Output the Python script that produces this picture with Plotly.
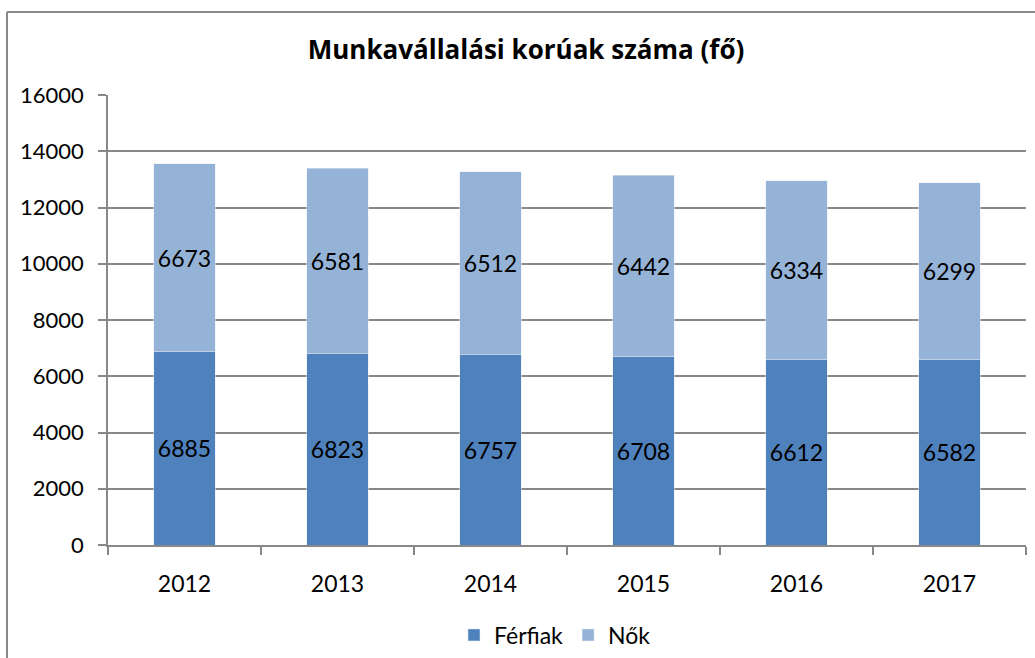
import plotly.graph_objects as go

years = ["2012", "2013", "2014", "2015", "2016", "2017"]
ferfiak = [6885, 6823, 6757, 6708, 6612, 6582]
nok = [6673, 6581, 6512, 6442, 6334, 6299]
y_ticks = [0, 2000, 4000, 6000, 8000, 10000, 12000, 14000, 16000]

FONT = "Lato"
W, H = 1035, 658
L, R, T, B = 108, 9, 95, 113
PW, PH = W - L - R, H - T - B
GRAY = "#888888"

fig = go.Figure()
fig.add_trace(go.Bar(
    x=years, y=ferfiak, name="Férfiak", marker_color="#4F81BD",
    text=[str(v) for v in ferfiak], textposition="inside", insidetextanchor="middle",
    textfont=dict(family=FONT, size=23, color="black"), textangle=0,
))
fig.add_trace(go.Bar(
    x=years, y=nok, name="Nők", marker_color="#95B3D7",
    text=[str(v) for v in nok], textposition="inside", insidetextanchor="middle",
    textfont=dict(family=FONT, size=23, color="black"), textangle=0,
))

fig.update_layout(
    width=W, height=H,
    barmode="stack", bargap=0.595,
    paper_bgcolor="white", plot_bgcolor="white",
    margin=dict(l=L, r=R, t=T, b=B, autoexpand=False),
    font=dict(family=FONT, size=22, color="black"),
    title=dict(text="<b>Munkavállalási korúak száma (fő)</b>", x=526 / W, xanchor="center",
               y=1 - 50 / H, yanchor="middle",
               font=dict(family="Open Sans", size=26, color="black")),
    legend=dict(orientation="h", x=(555 - L) / PW, xanchor="center",
                y=-(635 - (H - B)) / PH, yanchor="middle",
                font=dict(family=FONT, size=23), traceorder="normal", itemwidth=30),
    showlegend=True,
)
fig.update_yaxes(range=[0, 16000], tickvals=y_ticks, ticktext=[str(v) for v in y_ticks],
                 showgrid=True, gridcolor=GRAY, gridwidth=1.5,
                 showline=True, linecolor=GRAY, linewidth=1.5,
                 ticks="outside", ticklen=8, tickcolor=GRAY, tickwidth=1.5,
                 ticklabelstandoff=10,
                 tickfont=dict(family=FONT, size=22), zeroline=False)
fig.update_xaxes(showline=True, linecolor=GRAY, linewidth=1.5,
                 ticks="outside", ticklen=8, tickcolor=GRAY, tickwidth=1.5,
                 tickson="boundaries", ticklabelstandoff=18,
                 tickfont=dict(family=FONT, size=23), showgrid=False)

# outer chart border (top and left edges visible)
bx = (7 - L) / PW
by = 1 + (T - 12) / PH
fig.add_shape(type="line", xref="paper", yref="paper",
              x0=bx, x1=(W + 20 - L) / PW, y0=by, y1=by,
              line=dict(color=GRAY, width=2))
fig.add_shape(type="line", xref="paper", yref="paper",
              x0=bx, x1=bx, y0=by, y1=-(B + 20) / PH,
              line=dict(color=GRAY, width=2))

fig.write_html("out.html", config={"displayModeBar": False},
               post_script="document.body.style.margin='0';document.body.style.overflow='hidden';")
